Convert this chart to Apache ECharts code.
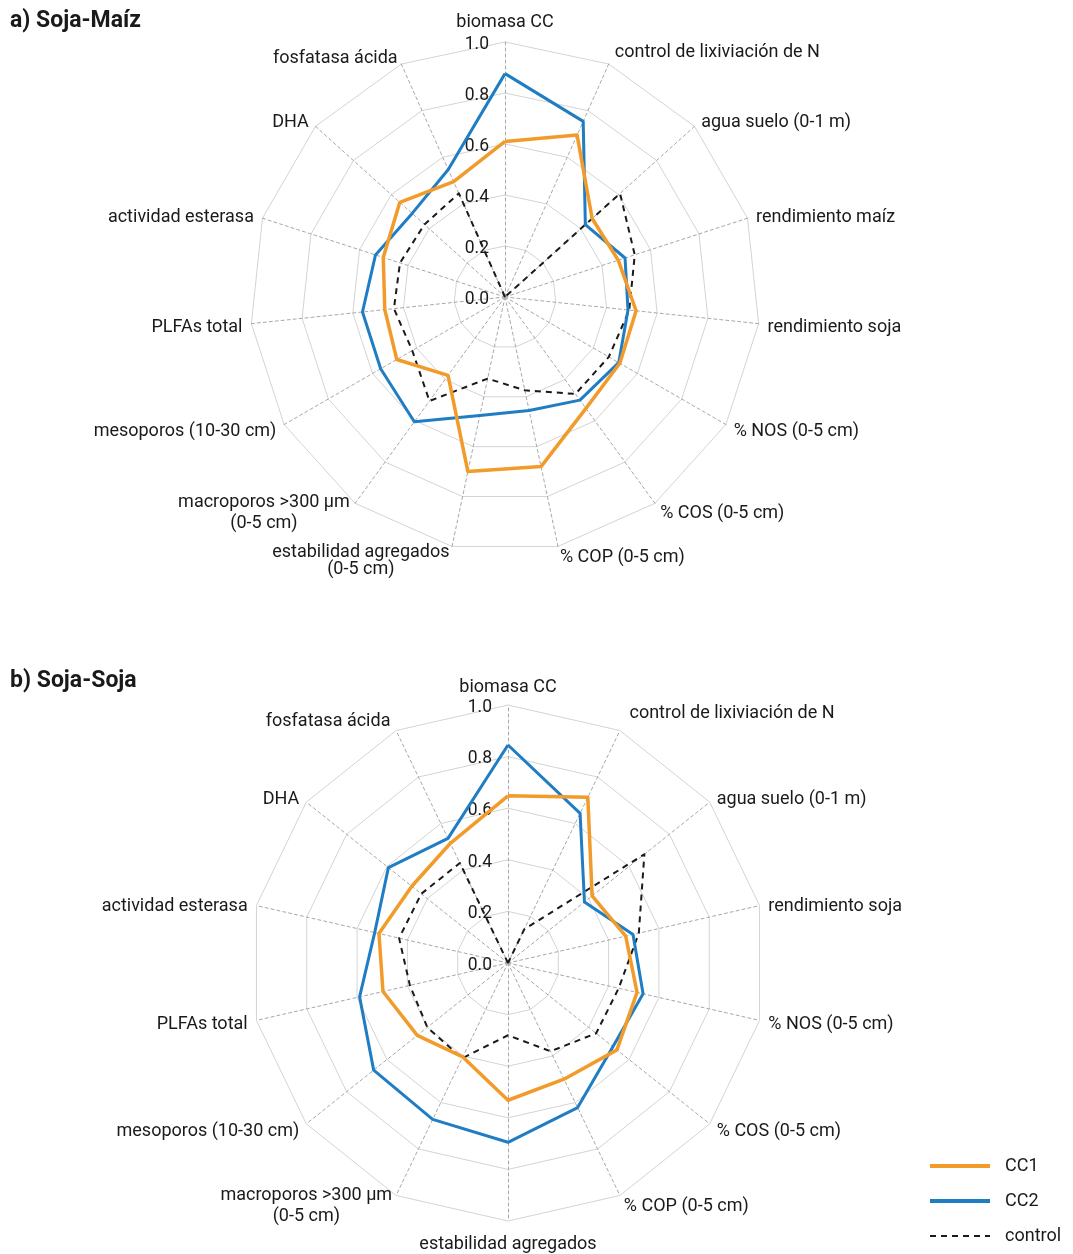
<!DOCTYPE html>
<html lang="es">
<head>
<meta charset="UTF-8">
<title>Radar Soja-Maíz / Soja-Soja</title>
<script src="https://cdn.jsdelivr.net/npm/echarts@6/dist/echarts.min.js"></script>
<style>
  html, body { margin: 0; padding: 0; background: #fff; }
  #main { width: 1073px; height: 1254px; }
</style>
</head>
<body>
<div id="main"></div>
<script>
// a) Soja-Maíz: ejes en sentido horario desde arriba
var ejesA = ['biomasa CC', 'control de lixiviación de N', 'agua suelo (0-1 m)', 'rendimiento maíz',
  'rendimiento soja', '% NOS (0-5 cm)', '% COS (0-5 cm)', '% COP (0-5 cm)',
  'estabilidad agregados\n(0-5 cm)', 'macroporos >300 µm\n(0-5 cm)', 'mesoporos (10-30 cm)',
  'PLFAs total', 'actividad esterasa', 'DHA', 'fosfatasa ácida'];
var cc1A = [0.61, 0.695, 0.46, 0.467, 0.517, 0.52, 0.54, 0.68, 0.70, 0.38, 0.49, 0.474, 0.502, 0.555, 0.495];
var cc2A = [0.876, 0.754, 0.424, 0.495, 0.485, 0.515, 0.50, 0.455, 0.475, 0.605, 0.563, 0.562, 0.534, 0.49, 0.547];
var controlA = [0, 0, 0.607, 0.535, 0.49, 0.47, 0.47, 0.374, 0.327, 0.504, 0.42, 0.438, 0.433, 0.425, 0.445];

// b) Soja-Soja
var ejesB = ['biomasa CC', 'control de lixiviación de N', 'agua suelo (0-1 m)', 'rendimiento soja',
  '% NOS (0-5 cm)', '% COS (0-5 cm)', '% COP (0-5 cm)', 'estabilidad agregados',
  'macroporos >300 µm\n(0-5 cm)', 'mesoporos (10-30 cm)', 'PLFAs total', 'actividad esterasa',
  'DHA', 'fosfatasa ácida'];
var cc1B = [0.648, 0.713, 0.417, 0.468, 0.513, 0.54, 0.50, 0.532, 0.404, 0.45, 0.497, 0.513, 0.477, 0.515];
var cc2B = [0.845, 0.644, 0.379, 0.497, 0.537, 0.52, 0.622, 0.695, 0.673, 0.666, 0.59, 0.53, 0.593, 0.536];
var controlB = [0, 0.145, 0.676, 0.52, 0.44, 0.437, 0.38, 0.28, 0.41, 0.40, 0.39, 0.433, 0.43, 0.43];

var ticks = [0, 0.2, 0.4, 0.6, 0.8, 1.0];

// separación de algunos nombres respecto del borde (el resto usa 9)
var gapA = { 'biomasa CC': 11, 'control de lixiviación de N': 15, 'estabilidad agregados\n(0-5 cm)': 12 };
var gapB = { 'control de lixiviación de N': 22, 'fosfatasa ácida': 13 };

var naranja = '#f29b2b';
var azul = '#1f7dc4';
var negro = '#1a1a1a';
var fuente = 'Roboto';

// echarts dibuja el radar en sentido antihorario: invertimos todo menos el primero
function horario(arr) {
  return [arr[0]].concat(arr.slice(1).reverse());
}

function indicadores(ejes, gaps) {
  return horario(ejes).map(function (n, i) {
    var ind = { name: n, min: ticks[0], max: ticks[ticks.length - 1] };
    if (gaps[n] != null) ind.nameGap = gaps[n];
    if (i === 0) {
      ind.axisLabel = {
        show: true, fontSize: 17.5, color: negro, fontFamily: fuente, margin: 16,
        formatter: function (v) { return '{t|' + v.toFixed(1) + '}'; },
        rich: { t: { fontSize: 17.5, color: negro, fontFamily: fuente, padding: [5, 0, 0, 0] } }
      };
    }
    return ind;
  });
}

function radar(ejes, gaps, cx, cy, r) {
  return {
    indicator: indicadores(ejes, gaps),
    center: [cx, cy],
    radius: r,
    startAngle: 90,
    splitNumber: ticks.length - 1,
    shape: 'polygon',
    nameGap: 9,
    axisName: {
      color: negro, fontSize: 18, fontFamily: fuente,
      padding: [5, 0, 0, 0],
      formatter: function (name) {
        if (name.indexOf('\n') < 0) return name;
        var st = name.indexOf('estabilidad') === 0 ? 'e' : 'c';
        return name.split('\n').map(function (l) { return '{' + st + '|' + l + '}'; }).join('\n');
      },
      rich: {
        c: { align: 'center', fontSize: 18, color: negro, fontFamily: fuente, lineHeight: 21 },
        e: { align: 'center', fontSize: 18, color: negro, fontFamily: fuente, lineHeight: 17 }
      }
    },
    axisLabel: { show: false },
    axisTick: { show: false },
    axisLine: { lineStyle: { color: '#a8a8a8', type: [3, 3], width: 1 } },
    splitLine: { lineStyle: { color: '#d4d4d4', width: 1 } },
    splitArea: { show: false }
  };
}

function serie(idx, cc1, cc2, ctrl) {
  return {
    type: 'radar',
    radarIndex: idx,
    symbol: 'none',
    silent: true,
    data: [
      { name: 'control', value: horario(ctrl),
        itemStyle: { color: negro },
        lineStyle: { color: negro, width: 2, type: [6, 5] } },
      { name: 'CC2', value: horario(cc2),
        itemStyle: { color: azul },
        lineStyle: { color: azul, width: 3 } },
      { name: 'CC1', value: horario(cc1),
        itemStyle: { color: naranja },
        lineStyle: { color: naranja, width: 3.5 } }
    ]
  };
}

var lineaIcono = 'path://M0,0H60V4H0Z';
var guionIcono = 'path://M0,0H0.01V0.01H0Z M0,3.99H0.01V4H0Z' +
  ' M0,1H6V3H0Z M11,1H17V3H11Z M22,1H28V3H22Z M33,1H39V3H33Z M44,1H50V3H44Z M55,1H60V3H55Z';

var chart = echarts.init(document.getElementById('main'));
chart.setOption({
  animation: false,
  backgroundColor: '#ffffff',
  title: [
    { text: 'a) Soja-Maíz', left: 5, top: 5,
      textStyle: { fontSize: 23, fontWeight: 'bold', color: negro, fontFamily: fuente } },
    { text: 'b) Soja-Soja', left: 5, top: 665,
      textStyle: { fontSize: 23, fontWeight: 'bold', color: negro, fontFamily: fuente } }
  ],
  legend: {
    orient: 'vertical',
    left: 925, top: 1152,
    itemWidth: 60, itemHeight: 4, itemGap: 17,
    selectedMode: false,
    itemStyle: { borderWidth: 0 },
    data: [
      { name: 'CC1', icon: lineaIcono },
      { name: 'CC2', icon: lineaIcono },
      { name: 'control', icon: guionIcono }
    ],
    textStyle: { fontSize: 18, color: negro, fontFamily: fuente, padding: [0, 0, 0, 10] }
  },
  radar: [
    radar(ejesA, gapA, 505, 297, 255),
    radar(ejesB, gapB, 508, 963, 258)
  ],
  series: [
    serie(0, cc1A, cc2A, controlA),
    serie(1, cc1B, cc2B, controlB)
  ]
});
</script>
</body>
</html>
